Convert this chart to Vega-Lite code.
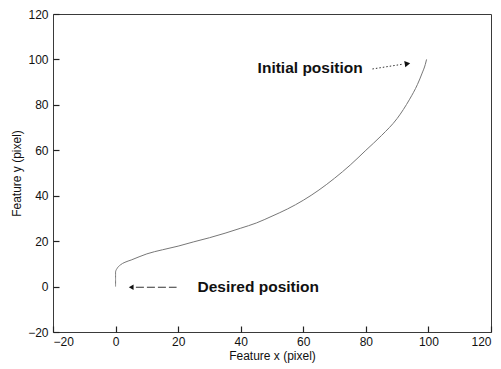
{
  "$schema": "https://vega.github.io/schema/vega-lite/v6.json",
  "width": 438,
  "height": 318,
  "autosize": "none",
  "padding": {"left": 53, "top": 14, "right": 10, "bottom": 37},
  "background": "white",
  "config": {
    "font": "Liberation Sans",
    "view": {"stroke": "#3a3a3a", "strokeWidth": 1},
    "axis": {
      "domain": false,
      "grid": false,
      "ticks": true,
      "tickSize": -6,
      "tickColor": "#222",
      "tickWidth": 1.2,
      "labelFontSize": 12,
      "labelColor": "#111",
      "titleFontSize": 12,
      "titleFontWeight": "normal",
      "titleColor": "#111"
    }
  },
  "datasets": {
    "trajectory": [
      {"x": 0, "y": 0}, {"x": 0, "y": 3}, {"x": 0, "y": 6.5}, {"x": 0.5, "y": 8},
      {"x": 1.5, "y": 9.5}, {"x": 3, "y": 10.7}, {"x": 5, "y": 11.7}, {"x": 7.5, "y": 13.1},
      {"x": 10, "y": 14.4}, {"x": 15, "y": 16.2}, {"x": 20, "y": 17.8}, {"x": 25, "y": 19.7},
      {"x": 30, "y": 21.5}, {"x": 35, "y": 23.5}, {"x": 40, "y": 25.7}, {"x": 45, "y": 28},
      {"x": 50, "y": 31}, {"x": 55, "y": 34.2}, {"x": 60, "y": 38}, {"x": 65, "y": 42.5},
      {"x": 70, "y": 47.7}, {"x": 75, "y": 53.5}, {"x": 80, "y": 60}, {"x": 85, "y": 66.5},
      {"x": 90, "y": 74}, {"x": 94, "y": 82.5}, {"x": 96.5, "y": 89}, {"x": 98, "y": 94},
      {"x": 99, "y": 97.8}, {"x": 99.4, "y": 100}
    ],
    "notes": [
      {"label": "Initial position", "x": 45.4, "y": 96.3},
      {"label": "Desired position", "x": 26.2, "y": -0.3}
    ]
  },
  "layer": [
    {
      "data": {"name": "trajectory"},
      "mark": {"type": "line", "stroke": "#777", "strokeWidth": 1, "interpolate": "monotone"},
      "encoding": {
        "x": {"field": "x", "type": "quantitative", "scale": {"domain": [-20, 120], "nice": false},
              "axis": {"orient": "bottom", "values": [-20, 0, 20, 40, 60, 80, 100, 120], "ticks": true, "tickSize": -6, "tickColor": "#222", "tickWidth": 1.2, "labelPadding": 10, "title": "Feature x (pixel)", "titlePadding": 3}},
        "y": {"field": "y", "type": "quantitative", "scale": {"domain": [-20, 120], "nice": false},
              "axis": {"orient": "left", "values": [-20, 0, 20, 40, 60, 80, 100, 120], "ticks": true, "tickSize": -6, "tickColor": "#222", "tickWidth": 1.2, "labelPadding": 11, "title": "Feature y (pixel)", "titlePadding": 4}}
      }
    },
    {
      "data": {"name": "notes"},
      "mark": {"type": "text", "align": "left", "baseline": "middle", "fontWeight": "bold", "fontSize": 15.5, "font": "Liberation Sans", "color": "#111"},
      "encoding": {
        "x": {"field": "x", "type": "quantitative", "scale": {"domain": [-20, 120], "nice": false},
              "axis": {"orient": "bottom", "values": [-20, 0, 20, 40, 60, 80, 100, 120], "ticks": true, "tickSize": -6, "tickColor": "#222", "tickWidth": 1.2, "labelPadding": 10, "title": "Feature x (pixel)", "titlePadding": 3}},
        "y": {"field": "y", "type": "quantitative", "scale": {"domain": [-20, 120], "nice": false},
              "axis": {"orient": "left", "values": [-20, 0, 20, 40, 60, 80, 100, 120], "ticks": true, "tickSize": -6, "tickColor": "#222", "tickWidth": 1.2, "labelPadding": 11, "title": "Feature y (pixel)", "titlePadding": 4}},
        "text": {"field": "label"}
      }
    },
    {
      "data": {"values": [{"x": 82.1, "y": 95.8, "x2": 91.8, "y2": 97.9}]},
      "mark": {"type": "rule", "stroke": "#333", "strokeWidth": 1, "strokeDash": [1.5, 2]},
      "encoding": {
        "x": {"field": "x", "type": "quantitative"},
        "y": {"field": "y", "type": "quantitative"},
        "x2": {"field": "x2"},
        "y2": {"field": "y2"}
      }
    },
    {
      "data": {"values": [{"x": 6.5, "y": -0.3, "x2": 19.5, "y2": -0.3}]},
      "mark": {"type": "rule", "stroke": "#333", "strokeWidth": 1, "strokeDash": [8, 3]},
      "encoding": {
        "x": {"field": "x", "type": "quantitative"},
        "y": {"field": "y", "type": "quantitative"},
        "x2": {"field": "x2"},
        "y2": {"field": "y2"}
      }
    },
    {
      "data": {"values": [{"x": 93.3, "y": 98.1}]},
      "mark": {"type": "point", "shape": "triangle-right", "filled": true, "color": "#111", "size": 40, "angle": 350, "opacity": 1},
      "encoding": {
        "x": {"field": "x", "type": "quantitative"},
        "y": {"field": "y", "type": "quantitative"}
      }
    },
    {
      "data": {"values": [{"x": 5, "y": -0.3}]},
      "mark": {"type": "point", "shape": "triangle-left", "filled": true, "color": "#111", "size": 30, "opacity": 1},
      "encoding": {
        "x": {"field": "x", "type": "quantitative"},
        "y": {"field": "y", "type": "quantitative"}
      }
    }
  ]
}
